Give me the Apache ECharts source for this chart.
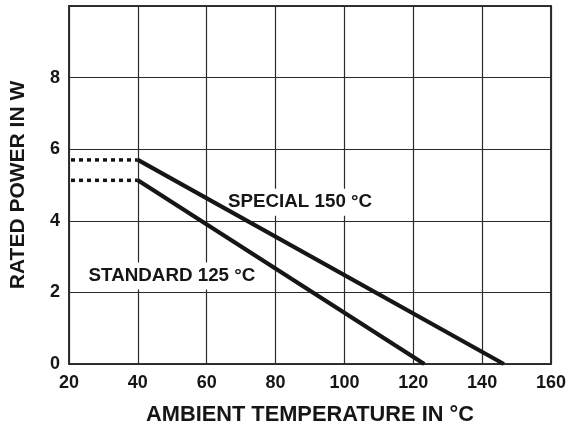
<!DOCTYPE html>
<html>
<head>
<meta charset="utf-8">
<script src="https://cdn.jsdelivr.net/npm/echarts@6/dist/echarts.min.js"></script>
<style>
html,body{margin:0;padding:0;background:#fff;}
#chart{width:569px;height:431px;}
</style>
</head>
<body>
<div id="chart"></div>
<script>
// Data
const xTicks = [20, 40, 60, 80, 100, 120, 140, 160];
const yTicks = [0, 2, 4, 6, 8, 10];
const specialTemp = [40, 146.3];
const specialPower = [5.70, 0];
const standardTemp = [40, 123.2];
const standardPower = [5.13, 0];
const flatTemp = [20, 40];
const labelTexts = ['SPECIAL 150 °C', 'STANDARD 125 °C'];
const labelTemp = [87.1, 49.9];
const labelPower = [4.52, 2.46];

const pairs = (xs, ys) => xs.map((x, i) => [x, ys[i]]);
const ink = '#161616';
const font = '"Liberation Sans", Arial, sans-serif';

const chart = echarts.init(document.getElementById('chart'), null, {renderer: 'canvas'});
chart.setOption({
  animation: false,
  backgroundColor: '#fff',
  grid: {left: 68, right: 12, top: 6, bottom: 63, show: true, borderColor: '#333', borderWidth: 2, backgroundColor: 'transparent'},
  xAxis: {
    type: 'value', min: xTicks[0], max: xTicks[xTicks.length - 1], interval: 20,
    name: 'AMBIENT TEMPERATURE IN °C', nameLocation: 'middle', nameGap: 40,
    nameTextStyle: {fontFamily: font, fontWeight: 'bold', fontSize: 21.8, color: ink},
    axisLine: {show: false}, axisTick: {show: false},
    axisLabel: {margin: 10, fontFamily: font, fontWeight: 'bold', fontSize: 18, color: ink,
      formatter: v => xTicks.includes(v) ? String(v) : ''},
    splitLine: {show: true, lineStyle: {color: '#2a2a2a', width: 1.2}}
  },
  yAxis: {
    type: 'value', min: yTicks[0], max: yTicks[yTicks.length - 1], interval: 2,
    name: 'RATED POWER IN W', nameLocation: 'middle', nameGap: 40, nameRotate: 90,
    nameTextStyle: {fontFamily: font, fontWeight: 'bold', fontSize: 21, color: ink},
    axisLine: {show: false}, axisTick: {show: false},
    axisLabel: {margin: 9, fontFamily: font, fontWeight: 'bold', fontSize: 18, color: ink,
      formatter: v => (v === 10 ? '' : String(v))},
    splitLine: {show: true, lineStyle: {color: '#2a2a2a', width: 1.2}}
  },
  series: [
    {
      type: 'scatter', z: 1, symbolSize: 0, silent: true,
      itemStyle: {opacity: 1},
      data: labelTexts.map((t, i) => ({value: [labelTemp[i], labelPower[i]], name: t})),
      label: {show: true, position: 'inside', formatter: p => p.name,
        fontFamily: font, fontWeight: 'bold', fontSize: 18.8, color: ink, opacity: 1,
        backgroundColor: '#fff', padding: [4, 4, 4, 4]}
    },
    {
      type: 'line', z: 3, symbol: 'none', silent: true,
      data: pairs(specialTemp, specialPower),
      lineStyle: {color: ink, width: 4.2, cap: 'butt'}
    },
    {
      type: 'line', z: 3, symbol: 'none', silent: true,
      data: pairs(standardTemp, standardPower),
      lineStyle: {color: ink, width: 4.2, cap: 'butt'}
    },
    {
      type: 'line', z: 3, symbol: 'none', silent: true,
      data: pairs(flatTemp, [specialPower[0], specialPower[0]]),
      lineStyle: {color: ink, width: 3.5, type: [4, 4], dashOffset: -2, cap: 'butt'}
    },
    {
      type: 'line', z: 3, symbol: 'none', silent: true,
      data: pairs(flatTemp, [standardPower[0], standardPower[0]]),
      lineStyle: {color: ink, width: 3.5, type: [4, 4], dashOffset: -2, cap: 'butt'}
    }
  ]
});
</script>
</body>
</html>
